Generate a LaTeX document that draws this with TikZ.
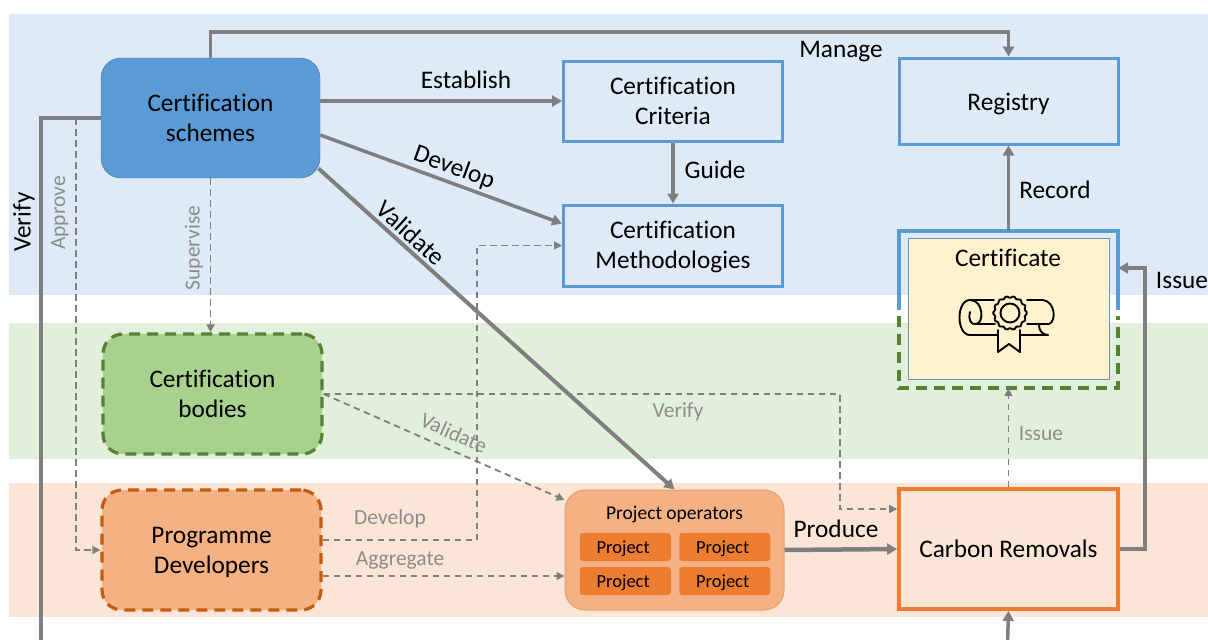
\documentclass[tikz,border=0pt]{standalone}
\usepackage{fontspec}
\setmainfont[RawFeature=-liga]{Carlito}
\usetikzlibrary{matrix, arrows.meta}

\definecolor{linegray}{HTML}{7F7F7F}
\definecolor{labelgray}{HTML}{8C8C8C}
\definecolor{schemeblue}{HTML}{5B9BD5}
\definecolor{bodygreen}{HTML}{548235}
\definecolor{devorange}{HTML}{C55A11}
\definecolor{boxorange}{HTML}{ED7D31}

\begin{document}
\begin{tikzpicture}[
    x=1pt, y=-1pt,
    every node/.style={font=\fontsize{25.3}{30}\selectfont, align=center},
    actor/.style={rounded corners=20pt, minimum width=219pt, minimum height=120pt},
    dashactor/.style={actor, line width=3.2pt, dash pattern=on 11pt off 7pt},
    itembox/.style={draw=schemeblue, line width=3pt, minimum width=219pt},
    solidarrow/.style={draw=linegray, line width=3.5pt,
        -{Triangle[length=10pt, width=11pt]}},
    dasharrow/.style={draw=linegray, line width=1.8pt, dash pattern=on 6.5pt off 4.5pt,
        -{Triangle[length=8pt, width=8pt]}},
    blacklabel/.style={text=black, inner sep=0pt},
    graylabel/.style={text=labelgray, inner sep=0pt, font=\fontsize{21.5}{24}\selectfont},
    projectcell/.style={fill=boxorange, rounded corners=3pt, minimum width=91pt,
        minimum height=28pt, inner sep=0pt, text depth=0.5pt, font=\fontsize{18.5}{22}\selectfont},
    ]

\useasboundingbox (0,0) rectangle (1208,640);

\fill[fill={rgb,255:red,222;green,234;blue,246}] (9,14) rectangle (1208,295);
\fill[fill={rgb,255:red,226;green,239;blue,218}] (9,323) rectangle (1208,459);
\fill[fill={rgb,255:red,251;green,229;blue,214}] (9,483) rectangle (1208,617);

\node[actor, draw=schemeblue!75!black, fill=schemeblue] (schemes) at (210.5,118) {Certification\\schemes};
\node[dashactor, draw=bodygreen, fill={rgb,255:red,169;green,209;blue,142}] (bodies) at (212.5,394) {Certification\\bodies};
\node[dashactor, draw=devorange, fill={rgb,255:red,244;green,177;blue,131}] (developers) at (211.5,550) {\\[-8pt]Programme\\Developers};

\node[itembox, minimum height=80pt] (criteria) at (673,101) {Certification\\Criteria};
\node[itembox, minimum height=81pt] (methods) at (673,245.5) {\\[-10pt]Certification\\Methodologies};
\node[itembox, minimum height=86pt] (registry) at (1008.5,101) {\\[-6pt]Registry};
\node[itembox, draw=boxorange, line width=3.8pt, minimum height=120pt] (removals) at (1008.5,549) {Carbon Removals};

\node[inner sep=0pt, minimum width=219pt, minimum height=157pt] (certificate) at (1008.5,309.5) {};
\draw[schemeblue, line width=3.8pt] (certificate.west) -- (certificate.north west)
    -- (certificate.north east) -- (certificate.east);
\draw[bodygreen, line width=3.5pt, dash pattern=on 11pt off 7pt] ([yshift=-6pt]certificate.west)
    -- (certificate.south west) -- (certificate.south east) -- ([yshift=-6pt]certificate.east);
\node[draw={rgb,255:red,100;green,145;blue,190}, line width=1pt, fill={rgb,255:red,255;green,242;blue,204},
    minimum width=201pt, minimum height=141pt] (certbox) at (1008.5,308.5) {};
\node[blacklabel] (certtext) at (1008,258) {Certificate};

\begin{scope}[black, line width=1.9pt, line cap=round, line join=round]
  \draw (970,300) .. controls (956,300) and (956,335) .. (970,335);
  \draw (970,300) .. controls (984,300) and (984,324) .. (976,324);
  \draw (970,312) .. controls (968,320) and (971,325) .. (976,324);
  \draw (970,300) -- (994,300);
  \draw (1027,300) -- (1043,300) .. controls (1056,302) and (1056,322) .. (1049,324) -- (1027,324);
  \draw (976,324) -- (995,324);
  \draw (970,335) -- (998,335);
  \draw (1020,335) -- (1048,335);
  \draw (1039,325) .. controls (1039,330) and (1042,335) .. (1048,335);
  \draw (998,330) -- (998,352) -- (1009,344) -- (1020,352) -- (1020,330);
  \draw[fill={rgb,255:red,255;green,242;blue,204}] plot[domain=0:360, samples=121, smooth]
      ({1010+(16+0.8*cos(14*\x))*cos(\x)}, {313+(16+0.8*cos(14*\x))*sin(\x)}) -- cycle;
  \draw (1010,313) circle[radius=9.5pt];
\end{scope}

\node[draw={rgb,255:red,230;green,160;blue,110}, line width=1pt, fill={rgb,255:red,244;green,177;blue,131},
    rounded corners=20pt, minimum width=219pt, minimum height=120pt] (operators) at (674.5,550) {};
\node[inner sep=0pt, font=\fontsize{19.5}{22}\selectfont] (opertext) at (674.5,514) {Project operators};
\matrix (projects) [matrix of nodes, row sep=6pt, column sep=8.5pt, nodes={projectcell}] at (675,564)
{
  Project & Project \\
  Project & Project \\
};

\coordinate (verifyend) at (41,645);
\coordinate (bottomstart) at (1007.5,645);

\draw[solidarrow] (schemes.north) -- ++(0,-26) -| (registry.north);
\draw[solidarrow] ([yshift=17pt]schemes.east) -- (criteria.west);
\draw[solidarrow] ([yshift=-17pt]schemes.east) -- ([yshift=22pt]methods.west);
\draw[solidarrow, line width=4pt] (318.5,168.5) -- (operators.north);
\draw[solidarrow] (criteria.south) -- (methods.north);
\draw[solidarrow] (certificate.north) -- (registry.south);
\draw[solidarrow] (removals.east) -- ++(25,0) |- ([yshift=41.5pt]certificate.east);
\draw[solidarrow, line width=4.5pt] (operators.east) -- (removals.west);
\draw[solidarrow, -] (schemes.west) -- (verifyend |- schemes.west) -- (verifyend);
\draw[solidarrow] (bottomstart) -- (removals.south);

\draw[dasharrow] (76,118) |- (developers.west);
\draw[dasharrow] (schemes.south) -- ([xshift=-2pt]bodies.north);
\draw[dasharrow] (bodies.east) -- ++(516,0) |- ([yshift=40pt]removals.west);
\draw[dasharrow] (bodies.east) -- ([yshift=50pt]operators.west);
\draw[dasharrow] ([yshift=10pt]developers.east) -- ++(154,0) |- (methods.west);
\draw[dasharrow] ([yshift=-26pt]developers.east) -- ([yshift=-26pt]operators.west);
\draw[dasharrow] (removals.north) -- (certificate.south);

\node[blacklabel] (lmanage) at (841,52) {Manage};
\node[blacklabel] (lestablish) at (466,80) {Establish};
\node[blacklabel, rotate=-20] (ldevelop) at (454,168) {Develop};
\node[blacklabel, rotate=-42] (lvalidate) at (411,233) {Validate};
\node[blacklabel] (lguide) at (715,170) {Guide};
\node[blacklabel] (lrecord) at (1055,190) {Record};
\node[blacklabel] (lissue) at (1182,280) {Issue};
\node[blacklabel] (lproduce) at (836,529) {Produce};
\node[blacklabel, rotate=90] (lverify) at (24,222) {Verify};

\node[graylabel, rotate=90] (lapprove) at (60,213) {Approve};
\node[graylabel, rotate=90] (lsupervise) at (194,248) {Supervise};
\node[graylabel] (lverifyg) at (678,412) {Verify};
\node[graylabel, rotate=-24] (lvalidateg) at (454,433) {Validate};
\node[graylabel] (ldevelopg) at (390,519) {Develop};
\node[graylabel] (laggregate) at (400,560) {Aggregate};
\node[graylabel] (lissueg) at (1041,434) {Issue};
\end{tikzpicture}
\end{document}
